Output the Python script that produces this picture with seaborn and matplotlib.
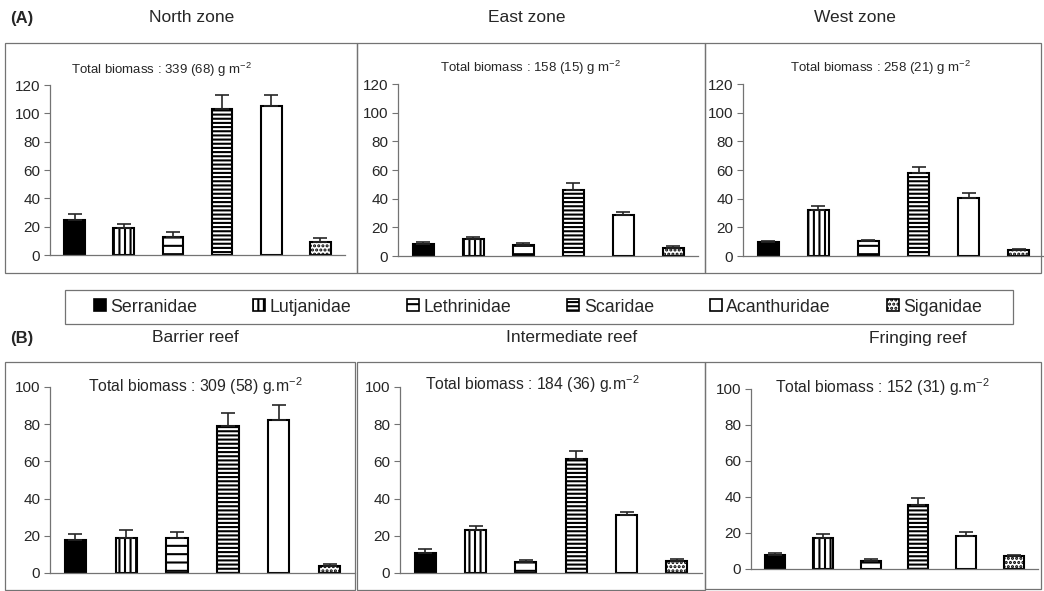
import matplotlib
matplotlib.use("Agg")
import matplotlib.pyplot as plt
from matplotlib.patches import Rectangle, Patch
import seaborn as sns

families = ["Serranidae", "Lutjanidae", "Lethrinidae", "Scaridae", "Acanthuridae", "Siganidae"]
hatches = ["", "|||", "--", "----", "", "...."]
faces = ["black", "white", "white", "white", "white", "white"]

# mean biomass (g m-2) and standard error, top row (zones)
north = [25, 19, 13, 103, 105, 9]
north_se = [4, 3, 3, 10, 8, 3]
east = [8.5, 12, 8, 46, 28.5, 5.5]
east_se = [1, 1.5, 1, 5, 2.5, 1.5]
west = [10, 32, 10.5, 58, 40.5, 4]
west_se = [0.8, 3, 1, 4, 3.5, 1]

# bottom row (reef types)
barrier = [18, 19, 19, 79, 82, 4]
barrier_se = [3, 4, 3, 7, 8.5, 1]
intermediate = [11, 23, 6, 61.5, 31, 6.5]
intermediate_se = [2, 2.5, 1, 4, 2, 1]
fringing = [8, 17, 4.5, 35.5, 18.5, 7]
fringing_se = [1, 2.5, 1, 4, 2, 1]

W, H = 1044, 591

sns.set_theme(style="white")
plt.rcParams["font.family"] = ["Liberation Sans", "DejaVu Sans"]
plt.rcParams["mathtext.default"] = "regular"
plt.rcParams["hatch.linewidth"] = 1.5

fig = plt.figure(figsize=(W / 100, H / 100), dpi=100)


def fx(px):
    return px / W


def fy(py):
    return 1 - py / H


def frame(x0, y0, x1, y1):
    fig.add_artist(Rectangle((fx(x0), fy(y1)), fx(x1 - x0), (y1 - y0) / H,
                             transform=fig.transFigure, fill=False,
                             edgecolor="0.45", lw=0.9))


def panel(vals, se, box, yaxis_px, right_px, zero_px, top_px, ymax, title, title_x, title_y,
          total, tot_x, tot_y, tot_size):
    frame(*box)
    ax = fig.add_axes([fx(yaxis_px), fy(zero_px), fx(right_px - yaxis_px), (zero_px - top_px) / H])
    sns.barplot(x=families, y=vals, ax=ax, color="white", saturation=1,
                edgecolor="black", linewidth=1.5, width=0.42)
    for p, h, fc in zip(ax.patches, hatches, faces):
        p.set_facecolor(fc)
        p.set_hatch(h)
    ax.errorbar(range(len(vals)), vals, yerr=[[0] * len(se), se], fmt="none",
                ecolor="0.15", elinewidth=1.2, capsize=5, capthick=1.2)
    ax.set_xlim(-0.5, 5.5)
    ax.set_ylim(0, ymax)
    ax.set_yticks(range(0, ymax + 1, 20))
    ax.set_xticks([])
    ax.set_xlabel("")
    ax.set_ylabel("")
    ax.patch.set_alpha(0)
    for s in ["top", "right"]:
        ax.spines[s].set_visible(False)
    for s in ["left", "bottom"]:
        ax.spines[s].set_color("0.45")
        ax.spines[s].set_linewidth(0.9)
    ax.tick_params(axis="y", left=True, length=4, width=0.8, color="0.45",
                   labelsize=11, pad=3)
    fig.text(fx(title_x), fy(title_y), title, ha="center", va="center", fontsize=12.5)
    fig.text(fx(tot_x), fy(tot_y), total, ha="center", va="center", fontsize=tot_size)
    return ax


panel(north, north_se, (5, 43, 357, 273), 50, 345, 255, 85, 120, "North zone", 192, 18,
      "Total biomass : 339 (68) g m$^{-2}$", 161, 70, 9.5)
panel(east, east_se, (357, 43, 705, 273), 398, 698, 256, 84, 120, "East zone", 527, 18,
      "Total biomass : 158 (15) g m$^{-2}$", 530, 68, 9.5)
panel(west, west_se, (705, 43, 1041, 273), 743, 1044, 256, 84, 120, "West zone", 855, 18,
      "Total biomass : 258 (21) g m$^{-2}$", 880, 68, 9.5)

panel(barrier, barrier_se, (5, 362, 355, 590), 50, 355, 573, 387, 100, "Barrier reef", 195, 338,
      "Total biomass : 309 (58) g.m$^{-2}$", 195, 386, 11.3)
panel(intermediate, intermediate_se, (357, 362, 705, 590), 400, 702, 573, 387, 100,
      "Intermediate reef", 572, 338,
      "Total biomass : 184 (36) g.m$^{-2}$", 532, 384, 11.3)
panel(fringing, fringing_se, (705, 362, 1041, 589), 751, 1038, 569, 389, 100,
      "Fringing reef", 918, 338,
      "Total biomass : 152 (31) g.m$^{-2}$", 882, 387, 11.3)

fig.text(fx(10), fy(18), "(A)", ha="left", va="center", fontsize=12, fontweight="bold")
fig.text(fx(10), fy(338), "(B)", ha="left", va="center", fontsize=12, fontweight="bold")

# legend: frame drawn separately, entries spread across it
frame(65, 290, 1013, 324)
handles = [Patch(facecolor=fc, edgecolor="black", hatch=h, lw=1.2)
           for fc, h in zip(faces, hatches)]
fig.legend(handles, families, loc="center", ncol=6, mode="expand",
           bbox_to_anchor=(fx(92), fy(322), fx(892), 30 / H),
           fontsize=12.8, frameon=False,
           handlelength=0.68, handleheight=0.68, handletextpad=0.25,
           borderaxespad=0, borderpad=0.1)

fig.savefig("out.png", dpi=100)
